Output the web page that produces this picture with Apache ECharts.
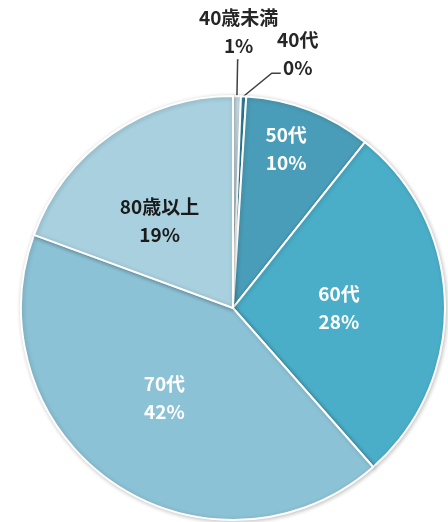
<!DOCTYPE html>
<html>
<head>
<meta charset="utf-8">
<script src="https://cdn.jsdelivr.net/npm/echarts@6/dist/echarts.min.js"></script>
<style>
  html, body { margin: 0; padding: 0; background: #fff; }
  #chart { width: 448px; height: 522px; }
</style>
</head>
<body>
<div id="chart"></div>
<script>
  // 年代別の割合
  const categories = ['40歳未満', '40代', '50代', '60代', '70代', '80歳以上']
  const values = [0.6, 0.4, 9.7, 27.8, 42.1, 19.4]

  const palette = ['#d3e9f1', '#2f86a0', '#4a9db8', '#4aaec8', '#8cc2d6', '#a8d0df']
  const textColors = ['#262626', '#262626', '#ffffff', '#ffffff', '#ffffff', '#1a1a1a']

  const chart = echarts.init(document.getElementById('chart'))

  const seriesData = categories.map((name, i) => {
    const item = {
      name: name,
      value: values[i],
      itemStyle: { color: palette[i] },
      label: { color: textColors[i] }
    }
    if (i === 0) {
      // 40歳未満: 真上に引き出す
      item.label.position = 'outside'
      item.label.distanceToLabelLine = 0
      item.labelLine = { show: true, length: 36, length2: 1 }
    } else if (i === 1) {
      // 40代: 右上に引き出す（下に空行を入れて文字を持ち上げる）
      item.label.position = 'outside'
      item.label.distanceToLabelLine = 17
      item.label.formatter = '{b}\n{d}%\n{s| }'
      item.label.rich = { s: { lineHeight: 38, fontSize: 1 } }
      item.labelLine = { show: true, length: 23, length2: 36 }
    }
    return item
  })

  const option = {
    backgroundColor: '#ffffff',
    series: [
      {
        type: 'pie',
        center: ['52%', '59%'],
        radius: 212,
        startAngle: 90,
        clockwise: true,
        avoidLabelOverlap: false,
        percentPrecision: 0,
        itemStyle: {
          borderColor: '#ffffff',
          borderWidth: 2,
          shadowBlur: 4,
          shadowColor: 'rgba(0,0,0,0.22)',
          shadowOffsetX: 1,
          shadowOffsetY: 1
        },
        label: {
          show: true,
          position: 'inside',
          formatter: '{b}\n{d}%',
          fontFamily: 'Noto Sans CJK JP',
          fontWeight: 'bold',
          fontSize: 19,
          lineHeight: 28
        },
        labelLine: {
          show: false,
          lineStyle: { color: '#404040', width: 1.5 }
        },
        labelLayout: params => {
          const i = params.dataIndex
          if (i === 0) {
            return { align: 'center', verticalAlign: 'bottom' }
          }
          if (i === 1) {
            const pts = params.labelLinePoints
            if (!pts) return { align: 'center' }
            return {
              align: 'center',
              labelLinePoints: [pts[0], [pts[2][0] - 9, pts[2][1]], pts[2]]
            }
          }
          if (i === 2) {
            // 細い扇形なので外寄りに置く
            return { dx: 14, dy: -57 }
          }
          if (i === 3) return { dx: -3, dy: 3 }
          if (i === 4) return { dx: -7 }
          if (i === 5) return { dx: -11, dy: 2 }
        },
        emphasis: { disabled: true },
        data: seriesData
      }
    ]
  }

  chart.setOption(option)
</script>
</body>
</html>
